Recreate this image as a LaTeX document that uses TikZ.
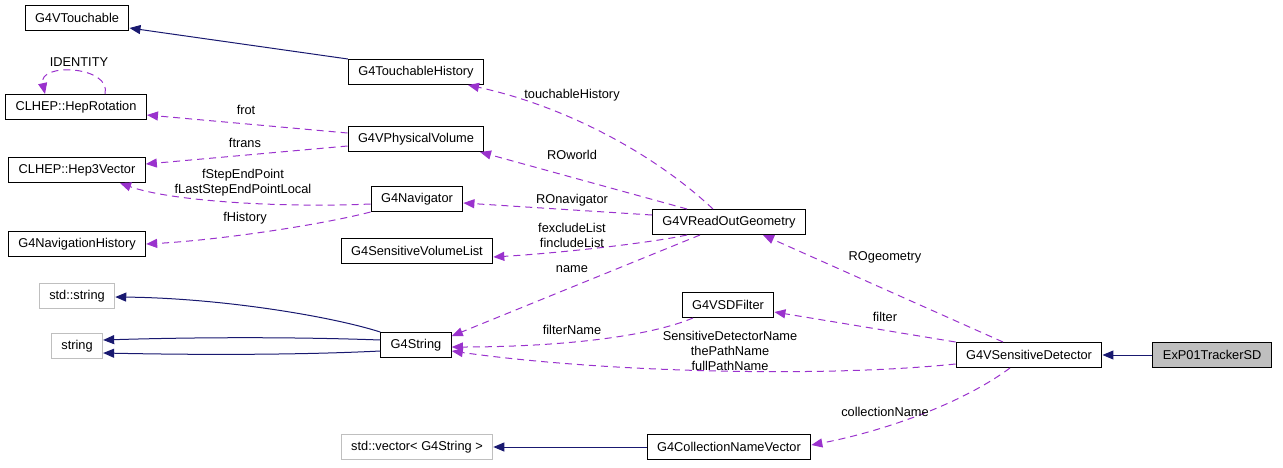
\documentclass[tikz,border=0pt]{standalone}
\usepackage{fontspec}
\setmainfont{Liberation Sans}
\usetikzlibrary{positioning,arrows.meta}
\definecolor{inhedge}{HTML}{191970}
\definecolor{memedge}{HTML}{9A32CD}
\definecolor{extline}{HTML}{BFBFBF}

\begin{document}
\begin{tikzpicture}[
  x=1pt, y=-1pt,
  every node/.style={font=\fontsize{12.8}{15}\selectfont},
  cls/.style={draw=black, fill=white, line width=1pt, minimum height=25pt,
              inner xsep=10pt, inner ysep=2pt},
  ext/.style={cls, draw=extline},
  cur/.style={cls, fill=extline},
  inh/.style={draw=inhedge, line width=1pt, -{Triangle[length=11pt,width=9pt]}},
  mem/.style={draw=memedge, line width=1pt, dash pattern=on 7pt off 5pt,
              -{Triangle[length=11pt,width=9pt]}},
  lbl/.style={align=center, inner sep=0pt}
]
\useasboundingbox (0,0) rectangle (1283,467);

% left column
\node[cls] (touch) at (77,18) {G4VTouchable};
\node[cls] (rot) at (76,107) {CLHEP::HepRotation};
\node[cls] (vec) at (77,170) {CLHEP::Hep3Vector};
\node[cls] (navhist) at (77,244) {G4NavigationHistory};
\node[ext] (stds) at (77,296) {std::string};
\node[ext] (strg) at (77,346) {string};

% middle column
\node[cls] (hist) at (416,72) {G4TouchableHistory};
\node[cls] (vol) at (416,139) {G4VPhysicalVolume};
\node[cls] (nav) at (417,199) {G4Navigator};
\node[cls] (svl) at (417,251) {G4SensitiveVolumeList};
\node[cls] (str) at (416,345) {G4String};
\node[ext] (stdv) at (417,447) {std::vector< G4String >};

% right side
\node[cls] (rog) at (729,222) {G4VReadOutGeometry};
\node[cls] (filt) at (728,305) {G4VSDFilter};
\node[cls] (cnv) at (729,447) {G4CollectionNameVector};
\node[cls] (sd) at (1029,355) {G4VSensitiveDetector};
\node[cur, right=50pt of sd] (tsd) {ExP01TrackerSD};

% inheritance
\draw[inh] (hist.north west) -- ([yshift=-10pt]touch.east);
\draw[inh] (tsd) -- (sd);
\draw[inh] (str.north west) .. controls (330,316) and (220,298) .. ([yshift=-1pt]stds.east);
\draw[inh] ([yshift=5pt]str.west) .. controls (300,337) and (200,337) .. ([yshift=6pt]strg.east);
\draw[inh] ([yshift=-6pt]str.west) .. controls (300,355) and (200,355) .. ([yshift=-7pt]strg.east);
\draw[inh] (cnv) -- (stdv);

% members
\draw[mem] ([xshift=29pt]rot.north) .. controls (112,66) and (38,62) .. ([xshift=-31pt]rot.north);
\draw[mem] ([yshift=6pt]vol.west) -- ([yshift=-8pt]rot.east);
\draw[mem] ([yshift=-7pt]vol.west) -- ([yshift=6pt]vec.east);
\draw[mem] ([yshift=-5pt]nav.west) .. controls (280,208) and (170,201) .. ([xshift=43pt]vec.south);
\draw[mem] (nav.south west) .. controls (320,225) and (220,240) .. (navhist.east);
\draw[mem] ([xshift=-16pt]rog.north) .. controls (650,150) and (560,105) .. ([xshift=52pt]hist.south);
\draw[mem] ([xshift=-42pt]rog.north) -- ([xshift=64pt]vol.south);
\draw[mem] ([yshift=7pt]rog.west) -- ([yshift=-4pt]nav.east);
\draw[mem] ([xshift=-42pt]rog.south) .. controls (650,243) and (560,253) .. ([yshift=-6pt]svl.east);
\draw[mem] ([xshift=-29pt]rog.south) -- ([yshift=9pt]str.east);
\draw[mem] ([xshift=-35pt]filt.south) .. controls (640,340) and (540,347) .. ([yshift=-2pt]str.east);
\draw[mem] ([yshift=-9pt]sd.west) .. controls (820,378) and (600,372) .. ([yshift=-6pt]str.east);
\draw[mem] ([xshift=-26pt]sd.north) -- ([xshift=34pt]rog.south);
\draw[mem] (sd.north west) -- ([yshift=-7pt]filt.east);
\draw[mem] ([xshift=-19pt]sd.south) .. controls (960,405) and (880,432) .. ([yshift=2pt]cnv.east);

% labels
\node[lbl] (lid) at (79,62) {IDENTITY};
\node[lbl] (lfrot) at (246,110) {frot};
\node[lbl] (lftrans) at (245,143) {ftrans};
\node[lbl] (lstep) at (243,183) {fStepEndPoint\\fLastStepEndPointLocal};
\node[lbl] (lhistory) at (245,218) {fHistory};
\node[lbl] (ltouch) at (572,95) {touchableHistory};
\node[lbl] (lworld) at (572,155) {ROworld};
\node[lbl] (lnav) at (572,200) {ROnavigator};
\node[lbl] (llist) at (572,235) {fexcludeList\\fincludeList};
\node[lbl] (lname) at (572,269) {name};
\node[lbl] (lfname) at (572,330) {filterName};
\node[lbl] (lsdname) at (730,351) {SensitiveDetectorName\\thePathName\\fullPathName};
\node[lbl] (lgeom) at (885,257) {ROgeometry};
\node[lbl] (lfilter) at (885,317) {filter};
\node[lbl] (lcoll) at (885,412) {collectionName};
\end{tikzpicture}
\end{document}
